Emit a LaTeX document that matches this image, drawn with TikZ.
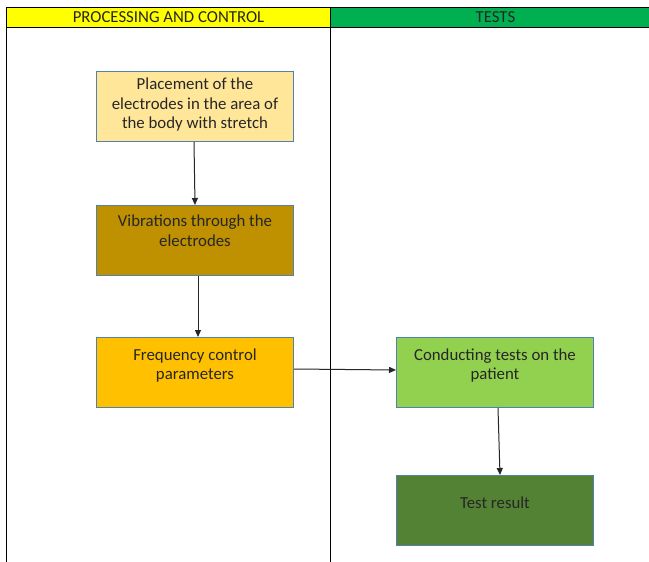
\documentclass[tikz,border=0pt]{standalone}
\usepackage{fontspec}
\setmainfont{Carlito}
\usetikzlibrary{arrows.meta}
\definecolor{bordc}{RGB}{80,130,175}
\definecolor{c1}{HTML}{FFE699}
\definecolor{c2}{HTML}{BF9000}
\definecolor{c3}{HTML}{FFC000}
\definecolor{c4}{HTML}{92D050}
\definecolor{c5}{HTML}{548235}
\definecolor{hy}{HTML}{FFFF00}
\definecolor{hg}{HTML}{00B050}
\begin{document}
\begin{tikzpicture}[x=1pt,y=-1pt,
  stepbox/.style={draw=bordc, line width=1pt, minimum width=197pt, minimum height=70pt, inner sep=0pt},
  boxtext/.style={anchor=north, align=center, font=\fontsize{16.8}{19.5}\selectfont, text=black!85, inner sep=0pt},
  head/.style={draw=black, line width=1pt, minimum height=20pt, inner sep=0pt, font=\fontsize{16.8}{18}\selectfont, text=black!85},
  conn/.style={-{Triangle[length=7pt,width=6pt]}, line width=1pt, black!85}]
\useasboundingbox (0,0) rectangle (649,562);
\fill[white] (0,0) rectangle (649,562);
% lanes
\draw[line width=1pt] (6,27) -- (6,562);
\draw[line width=1pt] (330,27) -- (330,562);
\node[head, fill=hy, minimum width=324pt, anchor=north west] (h1) at (6,7) {PROCESSING AND CONTROL};
\node[head, fill=hg, minimum width=330pt, anchor=north west] (h2) at (330,7) {TESTS};
% boxes
\node[stepbox, fill=c1, anchor=north west] (a) at (96,71) {};
\node[boxtext] (ta) at ([yshift=-7pt]a.north) {Placement of the\\electrodes in the area of\\the body with stretch};
\node[stepbox, fill=c2, anchor=north west] (b) at (96,205) {};
\node[boxtext] (tb) at ([yshift=-10pt]b.north) {Vibrations through the\\electrodes};
\node[stepbox, fill=c3, anchor=north west] (c) at (96,337) {};
\node[boxtext] (tc) at ([yshift=-11.5pt]c.north) {Frequency control\\parameters};
\node[stepbox, fill=c4, anchor=north west] (d) at (396,337) {};
\node[boxtext] (td) at ([yshift=-11.5pt]d.north) {Conducting tests on the\\patient};
\node[stepbox, fill=c5, anchor=north west] (e) at (396,475) {};
\node[boxtext] (te) at ([yshift=-21.5pt]e.north) {Test result};
% connectors
\draw[conn] ([xshift=-1pt]a.south) -- (b.north);
\draw[conn] ([xshift=3pt]b.south) -- ([xshift=3pt]c.north);
\draw[conn] ([yshift=3.5pt]c.east) -- ([yshift=2.5pt]d.west);
\draw[conn] ([xshift=3pt]d.south) -- ([xshift=5pt]e.north);
\end{tikzpicture}
\end{document}
